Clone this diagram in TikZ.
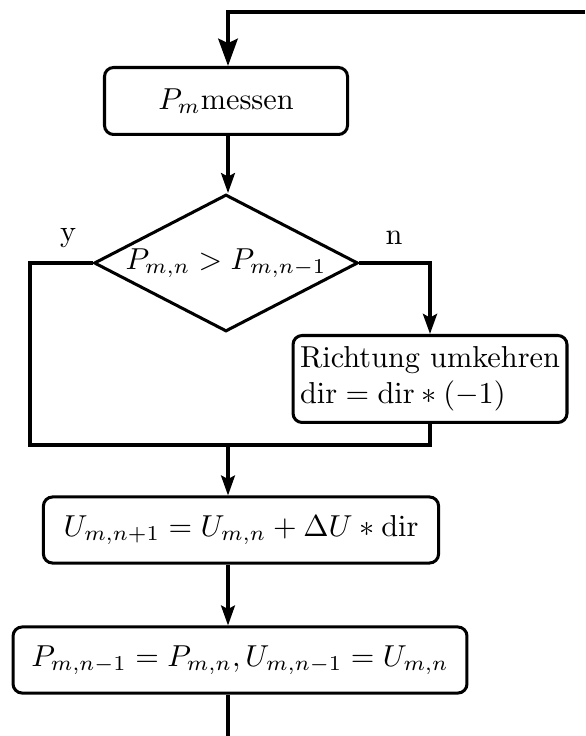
\documentclass[tikz,border=0pt]{standalone}
\usepackage{amsmath}
\usetikzlibrary{positioning, arrows.meta, shapes.geometric}

\begin{document}
\begin{tikzpicture}[x=0.33pt, y=-0.33pt, line width=1pt,
    proc/.style={draw, rounded corners=3pt, inner sep=2pt},
    decision/.style={draw, diamond, aspect=2, inner sep=0pt},
    arr/.style={-{Stealth[length=6.6pt, width=4.6pt, inset=1.2pt]}},
    bigarr/.style={line width=1.4pt, -{Stealth[length=9pt, width=6.4pt, inset=1.5pt]}}]
  \useasboundingbox (0,0) rectangle (585,736);
  % Schritte
  \node[proc, minimum width=80.2pt, minimum height=22.1pt] (meas) at (226,101) {$P_m$messen};
  \node[decision, minimum width=87.1pt, minimum height=45.2pt] (cmp) at (226,263) {$P_{m,n} > P_{m,n-1}$};
  \node[proc, align=left, minimum width=90.4pt, minimum height=28.7pt, inner sep=1pt] (flip) at (430,379)
    {Richtung umkehren\\$\mathrm{dir} = \mathrm{dir} * (-1)$};
  \node[proc, minimum width=130.4pt, minimum height=21.8pt] (upd) at (241,530)
    {$U_{m,n+1} = U_{m,n} + \Delta U * \mathrm{dir}$};
  \node[proc, minimum width=149.8pt, minimum height=21.8pt] (save) at (240,660)
    {$P_{m,n-1} = P_{m,n}, U_{m,n-1} = U_{m,n}$};
  \node (yes) at (68,238) {y};
  \node (no) at (394,238) {n};
  % Hilfspunkte
  \coordinate (entry) at (585,12);
  \coordinate (loop) at (228,12);
  \coordinate (ycorner) at (30,445);
  \coordinate (merge) at (228,445);
  \coordinate (exit) at (228,736);
  % Verbindungen
  \draw[bigarr] (entry) -- (loop) -- (loop |- meas.north);
  \draw[arr] (meas.south -| loop) -- (loop |- cmp.north);
  \draw (cmp.west) -| (ycorner) -- (ycorner -| flip.south) -- (flip.south);
  \draw[arr, line width=1.3pt] (cmp.east) -| (flip.north);
  \draw[arr] (merge) -- (upd.north -| merge);
  \draw[arr] (upd.south -| merge) -- (save.north -| merge);
  \draw (save.south -| merge) -- (exit);
\end{tikzpicture}
\end{document}
